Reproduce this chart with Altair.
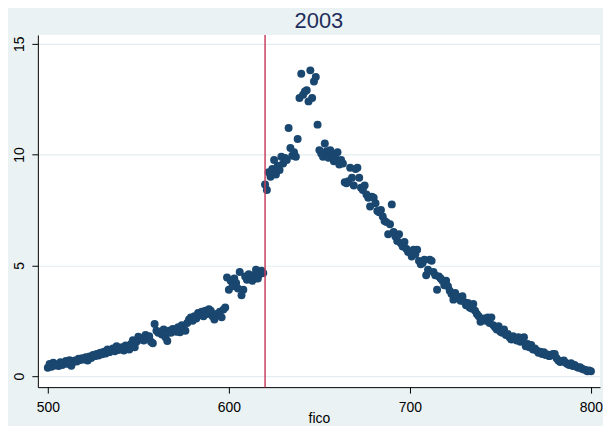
import altair as alt
import pandas as pd

fico = list(range(500, 801))

share = [
    # 500-509
    0.38, 0.55, 0.42, 0.60, 0.48, 0.52, 0.45, 0.62, 0.50, 0.58,
    # 510-519
    0.68, 0.55, 0.72, 0.47, 0.63, 0.70, 0.66, 0.78, 0.72, 0.80,
    # 520-529
    0.75, 0.85, 0.70, 0.88, 0.82, 0.95, 0.90, 1.00, 0.93, 1.05,
    # 530-539
    0.98, 1.10, 1.02, 1.20, 1.08, 1.15, 1.25, 1.12, 1.35, 1.18,
    # 540-549
    1.22, 1.30, 1.15, 1.38, 1.28, 1.20, 1.45, 1.62, 1.30, 1.55,
    # 550-559
    1.78, 1.65, 1.72, 1.60, 1.85, 1.70, 1.80, 1.55, 1.48, 2.35,
    # 560-569
    2.05, 1.95, 2.00, 1.88, 2.10, 1.75, 1.58, 2.05, 1.95, 2.12,
    # 570-579
    2.10, 2.00, 2.20, 1.98, 2.30, 2.15, 2.05, 2.40, 2.55, 2.65,
    # 580-589
    2.50, 2.70, 2.60, 2.85, 2.75, 2.90, 2.70, 2.95, 2.80, 3.02,
    # 590-599
    2.95, 2.70, 2.55, 2.80, 2.75, 2.90, 2.65, 3.00, 3.10, 4.45,
    # 600-609
    3.90, 4.30, 4.05, 4.40, 4.20, 3.95, 4.70, 3.65, 3.90, 4.50,
    # 610-619
    4.35, 4.60, 4.45, 4.30, 4.55, 4.80, 4.40, 4.60, 4.75, 4.65,
    # 620-629
    8.65, 8.40, 9.20, 9.00, 9.35, 9.75, 9.10, 9.50, 9.30, 9.90,
    # 630-639
    9.60, 9.85, 9.75, 11.20, 10.30, 9.95, 10.10, 9.90, 10.70, 12.55,
    # 640-649
    13.65, 12.70, 12.85, 12.90, 12.40, 13.80, 12.55, 13.30, 13.50, 11.35,
    # 650-659
    10.20, 10.05, 9.90, 10.50, 10.15, 9.85, 10.20, 9.95, 9.70, 9.80,
    # 660-669
    10.10, 9.55, 9.75, 9.60, 8.75, 8.70, 8.80, 9.40, 8.95, 8.60,
    # 670-679
    9.35, 9.40, 8.95, 8.50, 8.40, 8.60, 8.20, 8.05, 7.65, 8.10,
    # 680-689
    8.05, 7.80, 7.45, 7.40, 7.50, 7.20, 7.00, 6.95, 6.40, 6.85,
    # 690-699
    7.75, 6.50, 6.30, 6.10, 6.40, 6.00, 5.85, 6.05, 5.75, 5.60,
    # 700-709
    5.60, 5.40, 5.70, 5.50, 5.70, 5.20, 5.05, 5.10, 5.25, 4.55,
    # 710-719
    4.80, 5.25, 5.20, 4.70, 4.55, 3.90, 4.50, 4.40, 4.30, 4.10,
    # 720-729
    4.30, 4.05, 3.85, 3.70, 3.45, 3.75, 3.60, 3.50, 3.40, 3.60,
    # 730-739
    3.35, 3.20, 3.30, 3.10, 3.05, 3.25, 2.95, 2.80, 2.70, 2.45,
    # 740-749
    2.55, 2.60, 2.50, 2.65, 2.40, 2.65, 2.30, 2.20, 2.10, 2.25,
    # 750-759
    2.00, 1.95, 2.10, 1.85, 1.90, 1.75, 1.65, 1.80, 1.70, 1.60,
    # 760-769
    1.75, 1.55, 1.70, 1.75, 1.35, 1.45, 1.30, 1.40, 1.20, 1.25,
    # 770-779
    1.15, 1.05, 1.10, 1.00, 1.08, 0.95, 0.98, 0.90, 0.95, 1.00,
    # 780-789
    1.00, 0.80, 0.70, 0.63, 0.68, 0.70, 0.60, 0.55, 0.50, 0.58,
    # 790-799
    0.45, 0.50, 0.42, 0.38, 0.40, 0.33, 0.30, 0.28, 0.22, 0.25,
    # 800
    0.22,
]

cutoff = [620]
x_ticks = [500, 600, 700, 800]
y_ticks = [0, 5, 10, 15]
title_text = "2003"
x_title = "fico"

df = pd.DataFrame({"fico": fico, "share": share})
cut_df = pd.DataFrame({"cut": cutoff})

FONT = "Liberation Sans"

xscale = alt.Scale(domain=[494.5, 805], nice=False, zero=False)
yscale = alt.Scale(domain=[-0.5, 15.4], nice=False, zero=False)

points = alt.Chart(df).mark_circle(size=64, color="#1a476f", opacity=1).encode(
    x=alt.X(
        "fico:Q",
        scale=xscale,
        title=x_title,
        axis=alt.Axis(
            values=x_ticks,
            grid=False,
            labelFontSize=14,
            titleFontSize=14,
            titleFontWeight="normal",
            titlePadding=-2,
            labelPadding=7,
            tickSize=6,
            domainColor="black",
            tickColor="black",
            labelColor="black",
            titleColor="black",
            labelFont=FONT,
            titleFont=FONT,
        ),
    ),
    y=alt.Y(
        "share:Q",
        scale=yscale,
        title=None,
        axis=alt.Axis(
            values=y_ticks,
            grid=True,
            gridColor="#e4eef0",
            gridWidth=1.2,
            labelAngle=-90,
            labelFontSize=14,
            labelPadding=5,
            tickSize=6,
            domainColor="black",
            tickColor="black",
            labelColor="black",
            labelFont=FONT,
        ),
    ),
)

rule = alt.Chart(cut_df).mark_rule(color="#c8415f", strokeWidth=1.5).encode(
    x=alt.X("cut:Q", scale=xscale)
)

chart = (
    alt.layer(points, rule)
    .properties(
        width=565,
        height=354,
        title=alt.TitleParams(
            title_text,
            fontSize=22,
            font=FONT,
            fontWeight="normal",
            color="#1e2d5a",
            anchor="middle",
            offset=1,
        ),
        autosize=alt.AutoSizeParams(type="none"),
        padding={"left": 30, "top": 26, "right": 3, "bottom": 38},
    )
    .configure(background="#eaf2f3")
    .configure_view(fill="white", stroke=None)
)

chart.save("out.html", embed_options={"renderer": "svg", "actions": False})
